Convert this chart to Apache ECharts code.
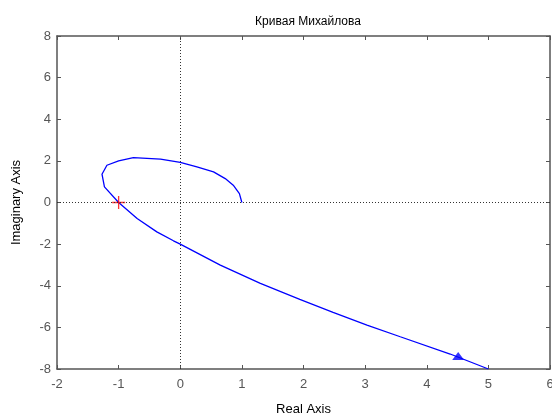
<!DOCTYPE html>
<html>
<head>
<meta charset="utf-8">
<script src="https://cdn.jsdelivr.net/npm/echarts@6/dist/echarts.min.js"></script>
<style>
  html, body { margin: 0; padding: 0; background: #fff; }
  #chart { width: 552px; height: 419px; }
</style>
</head>
<body>
<div id="chart"></div>
<script>
// Mikhailov curve points (real, imaginary)
const curveRe = [1.0, 0.96, 0.86, 0.73, 0.54, 0.27, 0.0, -0.32, -0.76, -1.0, -1.19, -1.27, -1.23, -1.0,
  -0.70, -0.38, -0.11, 0.0, 0.65, 1.30, 1.94, 2.48, 3.03, 3.57, 4.38, 5.0];
const curveIm = [0.0, 0.43, 0.83, 1.15, 1.47, 1.71, 1.93, 2.08, 2.16, 2.0, 1.79, 1.36, 0.75, 0.0,
  -0.77, -1.41, -1.84, -2.0, -3.01, -3.89, -4.65, -5.28, -5.89, -6.45, -7.28, -8.0];
const crossPoint = [-1, 0];
const arrowPoint = [4.51, -7.38];

const xTicks = { min: -2, max: 6, step: 1 };
const yTicks = { min: -8, max: 8, step: 2 };

const chart = echarts.init(document.getElementById("chart"));

const axisGray = "#555";
const font = "Liberation Sans, Arial, sans-serif";

const baseAxis = {
  axisLine: { show: true, onZero: false, lineStyle: { color: axisGray, width: 1.5 } },
  axisTick: { show: true, inside: true, length: 4, lineStyle: { color: axisGray } },
  splitLine: { show: false },
};

const option = {
  backgroundColor: "#fff",
  animation: false,
  title: {
    text: "Кривая Михайлова",
    left: 303, top: 11, textAlign: "center",
    textStyle: { fontFamily: font, fontSize: 12, fontWeight: "normal", color: "#000" },
  },
  grid: { left: 57, right: 2, top: 36, bottom: 50, outerBoundsMode: "none", containLabel: false },
  xAxis: [
    Object.assign({}, baseAxis, {
      type: "value", min: xTicks.min, max: xTicks.max, interval: xTicks.step,
      name: "Real Axis", nameLocation: "middle", nameGap: 34,
      nameTextStyle: { fontFamily: font, fontSize: 13, color: "#000" },
      axisLabel: { fontFamily: font, fontSize: 13, color: "#555", margin: 9 },
    }),
    Object.assign({}, baseAxis, {
      type: "value", position: "top", min: xTicks.min, max: xTicks.max, interval: xTicks.step,
      axisLabel: { show: false },
    }),
  ],
  yAxis: [
    Object.assign({}, baseAxis, {
      type: "value", min: yTicks.min, max: yTicks.max, interval: yTicks.step,
      name: "Imaginary Axis", nameLocation: "middle", nameGap: 34,
      nameTextStyle: { fontFamily: font, fontSize: 13, color: "#000" },
      axisLabel: { fontFamily: font, fontSize: 13, color: "#555", margin: 6 },
    }),
    Object.assign({}, baseAxis, {
      type: "value", position: "right", min: yTicks.min, max: yTicks.max, interval: yTicks.step,
      axisLabel: { show: false },
    }),
  ],
  series: [
    {
      type: "line",
      data: curveRe.map((x, i) => [x, curveIm[i]]),
      showSymbol: false,
      lineStyle: { color: "#0000ff", width: 1.3 },
      markLine: {
        silent: true,
        symbol: "none",
        label: { show: false },
        lineStyle: { color: "#333", type: [1, 2], width: 1 },
        data: [{ xAxis: 0 }, { yAxis: 0 }],
      },
      z: 3,
    },
    {
      type: "scatter",
      data: [crossPoint],
      symbol: "path://M0,5L10,5M5,0L5,10",
      symbolSize: 13,
      itemStyle: { color: "none", borderColor: "#ff0000", borderWidth: 1.3 },
      z: 4,
    },
    {
      type: "scatter",
      data: [arrowPoint],
      symbol: "triangle",
      symbolSize: [12, 8],
      itemStyle: { color: "#0000ff" },
      z: 4,
    },
  ],
};

chart.setOption(option);
</script>
</body>
</html>
